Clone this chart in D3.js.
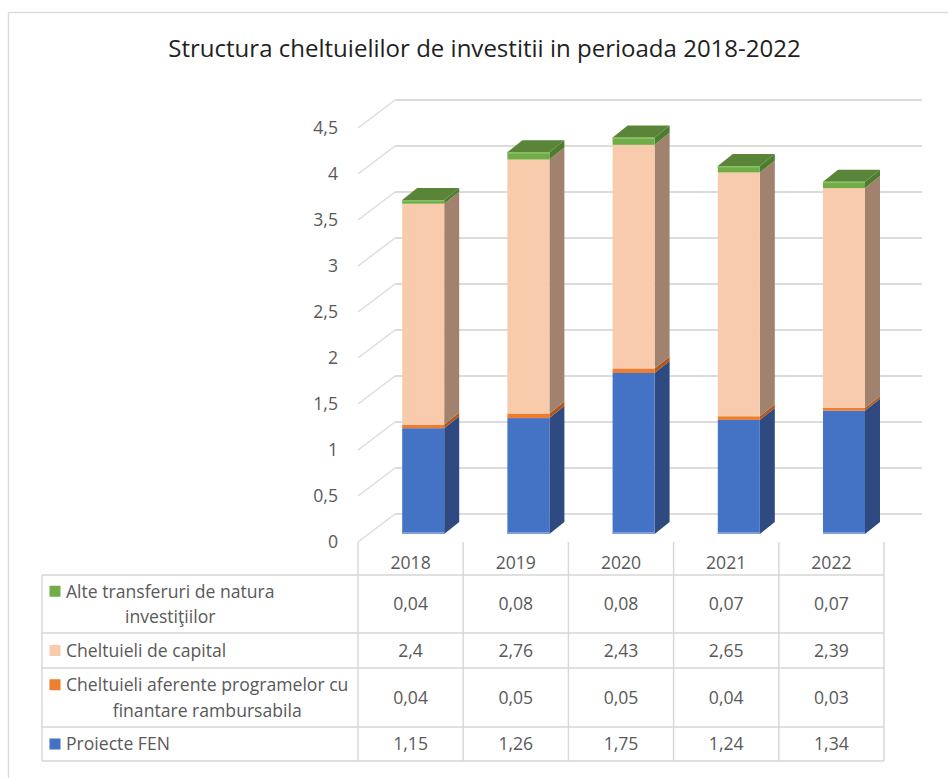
<!DOCTYPE html>
<html>
<head>
<meta charset="utf-8">
<script src="https://cdn.jsdelivr.net/npm/d3@7"></script>
<style>
  html, body { margin: 0; padding: 0; background: #fff; }
  svg { display: block; }
  text { font-family: "Open Sans", "Noto Sans", "DejaVu Sans", sans-serif; }
</style>
</head>
<body>
<svg id="chart" width="948" height="778"></svg>
<script>
// ---------------- DATA ----------------
const categories = ["2018", "2019", "2020", "2021", "2022"];
const proiecteFEN = [1.15, 1.26, 1.75, 1.24, 1.34];
const cheltuieliAferente = [0.04, 0.05, 0.05, 0.04, 0.03];
const cheltuieliCapital = [2.4, 2.76, 2.43, 2.65, 2.39];
const alteTransferuri = [0.04, 0.08, 0.08, 0.07, 0.07];
const yTicks = [0, 0.5, 1, 1.5, 2, 2.5, 3, 3.5, 4, 4.5];
const titleText = "Structura cheltuielilor de investitii in perioada 2018-2022";

// series in stacking order (bottom -> top)
const seriesKeys = ["fen", "aferente", "capital", "alte"];
const seriesValues = { fen: proiecteFEN, aferente: cheltuieliAferente, capital: cheltuieliCapital, alte: alteTransferuri };
const seriesNames = {
  fen: ["Proiecte FEN"],
  aferente: ["Cheltuieli aferente programelor cu", "finantare rambursabila"],
  capital: ["Cheltuieli de capital"],
  alte: ["Alte transferuri de natura", "investiţiilor"]
};

// ---------------- STYLES ----------------
const colors = {
  fen:      { front: "#4472C4", side: "#2E4A80", top: "#3A62AA" },
  aferente: { front: "#ED7D31", side: "#B0591D", top: "#C9692A" },
  capital:  { front: "#F8CBAD", side: "#A0826E", top: "#D8AF95" },
  alte:     { front: "#70AD47", side: "#4E7D2F", top: "#5A8538" }
};
const textColor = "#595959";
const gridColor = "#DCDCDC";
const tableColor = "#D6D6D6";

// ---------------- LAYOUT ----------------
const svg = d3.select("#chart");
const plotLeft = 358, plotRight = 884;      // front plane (table columns)
const wallDX = 37, wallDY = -28;            // depth of the 3D floor / walls
const backRight = 922;
const barDX = 10.6, barDY = -8;             // bar front offset in depth
const barW = 42, barDepthX = 15, barDepthY = -12;

const x = d3.scaleBand().domain(categories).range([plotLeft, plotRight]);
const y = d3.scaleLinear().domain([0, 4.5]).range([542, 128]);

const locale = d3.formatLocale({ decimal: ",", thousands: ".", grouping: [3], currency: ["", ""] });
const fmt = locale.format("~g");

// font size fitted so the longest legend line matches the reference width
const probe = svg.append("text").attr("font-size", 16).text(seriesNames.aferente[0]);
const fs = Math.min(17.6, 16 * 286 / probe.node().getComputedTextLength());
probe.remove();

// outer border
svg.append("rect")
  .attr("x", 8.5).attr("y", 12.5).attr("width", 960).attr("height", 800)
  .attr("fill", "none").attr("stroke", "#D9D9D9").attr("stroke-width", 1.3);

// title (fitted to the reference width)
const title = svg.append("text")
  .attr("x", 484.5).attr("y", 57)
  .attr("text-anchor", "middle")
  .attr("font-size", 20)
  .attr("fill", "#1F1F1F")
  .text(titleText);
const tw = title.node().getComputedTextLength();
title.attr("font-size", 20 * 633 / tw);

// gridlines: left wall diagonals + back wall horizontals
const grid = svg.append("g");
yTicks.forEach(t => {
  grid.append("line")
    .attr("x1", plotLeft).attr("y1", y(t))
    .attr("x2", plotLeft + wallDX).attr("y2", y(t) + wallDY)
    .attr("stroke", gridColor).attr("stroke-width", 1.5);
  grid.append("line")
    .attr("x1", plotLeft + wallDX).attr("y1", y(t) + wallDY)
    .attr("x2", backRight).attr("y2", y(t) + wallDY)
    .attr("stroke", gridColor).attr("stroke-width", 1.8);
});

// y-axis labels
svg.append("g").selectAll("text").data(yTicks).join("text")
  .attr("x", 338).attr("y", d => y(d))
  .attr("dy", "0.36em")
  .attr("text-anchor", "end")
  .attr("font-size", fs)
  .attr("fill", textColor)
  .text(d => fmt(d));

// stacked 3D bars
const rows = categories.map((c, i) => {
  const r = { cat: c };
  seriesKeys.forEach(k => r[k] = seriesValues[k][i]);
  return r;
});
const stacked = d3.stack().keys(seriesKeys)(rows);
const barsG = svg.append("g");
const by = v => y(v) + barDY;
categories.forEach((c, i) => {
  const bx = x(c) + x.bandwidth() / 2 - barW / 2 + barDX + 2;
  const g = barsG.append("g");
  stacked.forEach((layer, li) => {
    const k = layer.key;
    const [v0, v1] = layer[i];
    const yt = by(v1), yb = by(v0);
    g.append("polygon")
      .attr("points", [
        [bx + barW, yt], [bx + barW + barDepthX, yt + barDepthY],
        [bx + barW + barDepthX, yb + barDepthY], [bx + barW, yb]
      ].map(p => p.join(",")).join(" "))
      .attr("fill", colors[k].side);
    g.append("rect")
      .attr("x", bx).attr("y", yt)
      .attr("width", barW).attr("height", Math.max(0, yb - yt))
      .attr("fill", colors[k].front);
    if (li === stacked.length - 1) {
      g.append("polygon")
        .attr("points", [
          [bx, yt], [bx + barW, yt],
          [bx + barW + barDepthX, yt + barDepthY], [bx + barDepthX, yt + barDepthY]
        ].map(p => p.join(",")).join(" "))
        .attr("fill", colors[k].top);
      g.append("rect")
        .attr("x", bx).attr("y", yt).attr("width", barW).attr("height", 1.5)
        .attr("fill", "#8CC068");
    }
    if (li === 0) {
      g.append("rect")
        .attr("x", bx).attr("y", yb - 2).attr("width", barW).attr("height", 2)
        .attr("fill", "#7F9FD9");
    }
  });
});

// ---------------- DATA TABLE ----------------
const tableLeft = 42;
const headerTop = 542, headerBottom = 575;
const tableOrder = ["alte", "capital", "aferente", "fen"];
const rowBounds = [575, 633, 668, 727, 761];
const tg = svg.append("g");

rowBounds.forEach(yy => {
  tg.append("line")
    .attr("x1", tableLeft).attr("x2", plotRight)
    .attr("y1", yy).attr("y2", yy)
    .attr("stroke", tableColor).attr("stroke-width", 1.4);
});
tg.append("line")
  .attr("x1", tableLeft).attr("x2", tableLeft)
  .attr("y1", rowBounds[0]).attr("y2", rowBounds[rowBounds.length - 1])
  .attr("stroke", tableColor).attr("stroke-width", 1.4);
const colEdges = categories.map(c => x(c)).concat([plotRight]);
colEdges.forEach(xx => {
  tg.append("line")
    .attr("x1", xx).attr("x2", xx)
    .attr("y1", headerTop).attr("y2", rowBounds[rowBounds.length - 1])
    .attr("stroke", tableColor).attr("stroke-width", 1.4);
});
tg.selectAll("text.year").data(categories).join("text")
  .attr("class", "year")
  .attr("x", d => x(d) + x.bandwidth() / 2)
  .attr("y", (headerTop + headerBottom) / 2 + 4)
  .attr("dy", "0.36em")
  .attr("text-anchor", "middle")
  .attr("font-size", fs)
  .attr("fill", textColor)
  .text(d => d);

tableOrder.forEach((k, ri) => {
  const top = rowBounds[ri], bot = rowBounds[ri + 1];
  const mid = (top + bot) / 2;
  const lines = seriesNames[k];
  const lineGap = 25.5;
  const firstY = mid - (lines.length - 1) * lineGap / 2;
  tg.append("rect")
    .attr("x", 49.5).attr("y", firstY - 5.5)
    .attr("width", 11).attr("height", 11)
    .attr("fill", colors[k].front);
  const t0 = tg.append("text")
    .attr("x", 66).attr("y", firstY).attr("dy", "0.36em")
    .attr("font-size", fs).attr("fill", textColor)
    .text(lines[0]);
  const w0 = t0.node().getComputedTextLength();
  lines.slice(1).forEach((ln, li) => {
    tg.append("text")
      .attr("x", 66 + w0 / 2).attr("y", firstY + (li + 1) * lineGap).attr("dy", "0.36em")
      .attr("text-anchor", "middle")
      .attr("font-size", fs).attr("fill", textColor)
      .text(ln);
  });
  categories.forEach((c, i) => {
    tg.append("text")
      .attr("x", x(c) + x.bandwidth() / 2)
      .attr("y", mid).attr("dy", "0.36em")
      .attr("text-anchor", "middle")
      .attr("font-size", fs).attr("fill", textColor)
      .text(fmt(seriesValues[k][i]));
  });
});
</script>
</body>
</html>
